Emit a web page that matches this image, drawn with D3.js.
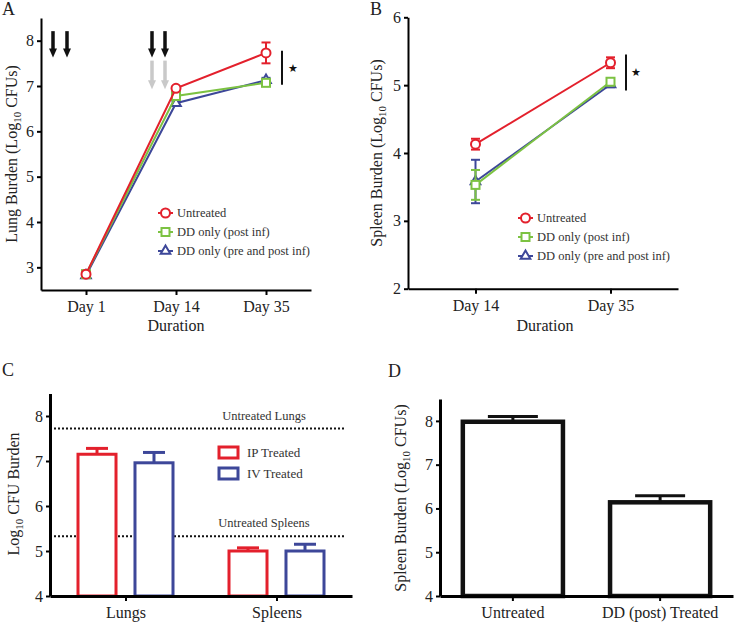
<!DOCTYPE html>
<html>
  <head>
    <title>CFU burden</title>
    <script src="https://d3js.org/d3.v7.min.js"></script>
    <style>
      body { margin: 0; background: white; }
      svg, svg text { font-family: "Liberation Serif", "DejaVu Serif", serif; }
      .axis path, .axis line { stroke: black; }
      .axis text { font-size: 16px; fill: #222; }
    </style>
  </head>
  <body>
    <script>
      // panel A: lung burden over time
      const daysA = ['Day 1', 'Day 14', 'Day 35'];
      const lungUntreated = [2.85, 6.95, 7.73];
      const lungUntreatedErr = [0.03, 0.04, 0.23];
      const lungPost = [2.85, 6.78, 7.07];
      const lungPostErr = [0.03, 0.05, 0.04];
      const lungPrePost = [2.82, 6.62, 7.13];
      const lungPrePostErr = [0.03, 0.04, 0.05];

      // panel B: spleen burden over time
      const daysB = ['Day 14', 'Day 35'];
      const spleenUntreated = [4.13, 5.33];
      const spleenUntreatedErr = [0.08, 0.08];
      const spleenPost = [3.53, 5.05];
      const spleenPostErr = [0.22, 0.04];
      const spleenPrePost = [3.58, 5.01];
      const spleenPrePostErr = [0.32, 0.04];

      const seriesNames = ['Untreated', 'DD only (post inf)', 'DD only (pre and post inf)'];

      // panel C: route of treatment
      const organs = ['Lungs', 'Spleens'];
      const routes = ['IP Treated', 'IV Treated'];
      const ipTreated = [7.15, 5.0];
      const ipTreatedErr = [0.13, 0.07];
      const ivTreated = [6.96, 5.0];
      const ivTreatedErr = [0.23, 0.15];
      const untreatedRef = [7.72, 5.33];
      const untreatedRefLabels = ['Untreated Lungs', 'Untreated Spleens'];

      // panel D
      const groupsD = ['Untreated', 'DD (post) Treated'];
      const spleenD = [7.98, 6.14];
      const spleenDErr = [0.12, 0.15];

      const RED = '#e3202c', GREEN = '#7cc242', BLUE = '#3d4799';
      const FONT = '"Liberation Serif", "DejaVu Serif", serif';

      const svg = d3.select('body').append('svg')
        .attr('width', 740).attr('height', 624)
        .attr('font-family', FONT);

      function txt(x, y, s, size) {
        return svg.append('text').attr('x', x).attr('y', y)
          .attr('font-family', FONT).style('font-size', size + 'px').style('fill', '#222').text(s);
      }

      function yLabel(x, y, pre, post) {
        const t = svg.append('text')
          .attr('transform', `translate(${x},${y}) rotate(-90)`)
          .attr('text-anchor', 'middle').attr('font-family', FONT)
          .style('font-size', '16px').style('fill', '#222');
        t.append('tspan').text(pre + 'Log');
        t.append('tspan').text('10').attr('dy', 4).style('font-size', '11px');
        t.append('tspan').text(post).attr('dy', -4);
      }

      function styleAxis(g, w) {
        g.attr('font-family', FONT);
        g.select('path').attr('stroke-width', w);
        g.selectAll('line').attr('stroke-width', 2);
      }

      function marker(shape, x, y, color) {
        if (shape === 0) {
          svg.append('circle').attr('cx', x).attr('cy', y).attr('r', 4.5)
            .attr('fill', 'white').attr('stroke', color).attr('stroke-width', 2);
        } else if (shape === 1) {
          svg.append('rect').attr('x', x - 4).attr('y', y - 4).attr('width', 8).attr('height', 8)
            .attr('fill', 'white').attr('stroke', color).attr('stroke-width', 2);
        } else {
          svg.append('path').attr('d', d3.symbol(d3.symbolTriangle, 40)())
            .attr('transform', `translate(${x},${y})`)
            .attr('fill', 'white').attr('stroke', color).attr('stroke-width', 2);
        }
      }

      function linePanel(cats, series, x, y, legendX, legendY) {
        const line = d3.line().x((d, i) => x(cats[i])).y(d => y(d));
        // draw blue first, red last
        [2, 1, 0].forEach(k => {
          const s = series[k];
          svg.append('path').datum(s.vals)
            .attr('d', line).attr('fill', 'none')
            .attr('stroke', s.color).attr('stroke-width', 2);
          s.vals.forEach((v, i) => {
            const cx = x(cats[i]);
            const e = s.err[i];
            svg.append('line').attr('x1', cx).attr('x2', cx)
              .attr('y1', y(v - e)).attr('y2', y(v + e))
              .attr('stroke', s.color).attr('stroke-width', 2);
            [v - e, v + e].forEach(w => svg.append('line')
              .attr('x1', cx - 4.5).attr('x2', cx + 4.5)
              .attr('y1', y(w)).attr('y2', y(w))
              .attr('stroke', s.color).attr('stroke-width', 2));
            marker(k, cx, y(v), s.color);
          });
        });
        series.forEach((s, k) => {
          const ly = legendY + k * 19;
          svg.append('line').attr('x1', legendX).attr('x2', legendX + 15)
            .attr('y1', ly).attr('y2', ly)
            .attr('stroke', s.color).attr('stroke-width', 2);
          marker(k, legendX + 7.5, ly, s.color);
          txt(legendX + 19, ly + 4, s.name, 12.5).style('fill', '#333');
        });
      }

      // ---------- A ----------
      const xA = d3.scalePoint().domain(daysA).range([41, 311]).padding(0.5);
      const yA = d3.scaleLinear().domain([2.5, 8.5]).range([290, 18]);
      svg.append('g').attr('class', 'axis').attr('transform', 'translate(0,290)')
        .call(d3.axisBottom(xA).tickSize(5).tickSizeOuter(0).tickPadding(6))
        .call(styleAxis, 2);
      svg.append('g').attr('class', 'axis').attr('transform', 'translate(41,0)')
        .call(d3.axisLeft(yA).tickValues([3, 4, 5, 6, 7, 8]).tickFormat(d3.format('d'))
          .tickSize(4).tickSizeOuter(0).tickPadding(3))
        .call(styleAxis, 2);

      // treatment arrows (black: DD dosing, grey: second regimen)
      const arrowsA = [
        { day: 'Day 1', dx: -33, top: 8.21, bottom: 7.63, color: '#111' },
        { day: 'Day 1', dx: -19, top: 8.21, bottom: 7.63, color: '#111' },
        { day: 'Day 14', dx: -24, top: 8.21, bottom: 7.63, color: '#111' },
        { day: 'Day 14', dx: -11, top: 8.21, bottom: 7.63, color: '#111' },
        { day: 'Day 14', dx: -24, top: 7.56, bottom: 6.93, color: '#c9c9c9' },
        { day: 'Day 14', dx: -11, top: 7.56, bottom: 6.93, color: '#c9c9c9' }
      ];
      arrowsA.forEach(a => {
        const ax = xA(a.day) + a.dx;
        const y0 = yA(a.top), y1 = yA(a.bottom);
        svg.append('line').attr('x1', ax).attr('x2', ax).attr('y1', y0).attr('y2', y1 - 8)
          .attr('stroke', a.color).attr('stroke-width', 3.5);
        svg.append('path')
          .attr('d', `M${ax - 4},${y1 - 9} L${ax + 4},${y1 - 9} L${ax},${y1} Z`)
          .attr('fill', a.color);
      });

      linePanel(daysA, [
        { name: seriesNames[0], vals: lungUntreated, err: lungUntreatedErr, color: RED },
        { name: seriesNames[1], vals: lungPost, err: lungPostErr, color: GREEN },
        { name: seriesNames[2], vals: lungPrePost, err: lungPrePostErr, color: BLUE }
      ], xA, yA, 158, 213);

      // significance
      svg.append('line').attr('x1', 282).attr('x2', 282).attr('y1', yA(7.78)).attr('y2', yA(7.03))
        .attr('stroke', '#111').attr('stroke-width', 2);
      txt(288, yA(7.4) + 4, '★', 11).style('fill', '#111');

      txt(176, 331, 'Duration', 16).attr('text-anchor', 'middle');
      yLabel(17, 154, 'Lung Burden (', ' CFUs)');
      txt(2, 15, 'A', 18);

      // ---------- B ----------
      const xB = d3.scalePoint().domain(daysB).range([408, 678]).padding(0.5);
      const yB = d3.scaleLinear().domain([2, 6]).range([288.7, 17.3]);
      svg.append('g').attr('class', 'axis').attr('transform', 'translate(0,288.7)')
        .call(d3.axisBottom(xB).tickSize(5).tickSizeOuter(0).tickPadding(6))
        .call(styleAxis, 2);
      svg.append('g').attr('class', 'axis').attr('transform', 'translate(408,0)')
        .call(d3.axisLeft(yB).ticks(4).tickFormat(d3.format('d')).tickSize(4).tickSizeOuter(0).tickPadding(3))
        .call(styleAxis, 2);

      linePanel(daysB, [
        { name: seriesNames[0], vals: spleenUntreated, err: spleenUntreatedErr, color: RED },
        { name: seriesNames[1], vals: spleenPost, err: spleenPostErr, color: GREEN },
        { name: seriesNames[2], vals: spleenPrePost, err: spleenPrePostErr, color: BLUE }
      ], xB, yB, 518, 218);

      svg.append('line').attr('x1', 626).attr('x2', 626).attr('y1', yB(5.45)).attr('y2', yB(4.92))
        .attr('stroke', '#111').attr('stroke-width', 2);
      txt(631, yB(5.19) + 4, '★', 11).style('fill', '#111');

      txt(545, 331, 'Duration', 16).attr('text-anchor', 'middle');
      yLabel(382, 153, 'Spleen Burden (', ' CFUs)');
      txt(370, 15, 'B', 18);

      // ---------- C ----------
      const xC = d3.scalePoint().domain(organs).range([50, 352]).padding(0.5);
      const subC = d3.scaleBand().domain(routes).range([-47.5, 47.5]).paddingInner(0.333);
      const yC = d3.scaleLinear().domain([4, 8.5]).range([596, 393.5]);
      const colorC = d3.scaleOrdinal().domain(routes).range([RED, BLUE]);
      const barsC = [];
      organs.forEach((o, i) => {
        barsC.push({ organ: o, route: routes[0], v: ipTreated[i], e: ipTreatedErr[i] });
        barsC.push({ organ: o, route: routes[1], v: ivTreated[i], e: ivTreatedErr[i] });
      });

      // untreated reference lines
      untreatedRef.forEach((v, i) => {
        svg.append('line').attr('x1', 50).attr('x2', 344).attr('y1', yC(v)).attr('y2', yC(v))
          .attr('stroke', '#111').attr('stroke-width', 2).attr('stroke-dasharray', '2,2');
        txt(264, yC(v) - 9, untreatedRefLabels[i], 12.5).attr('text-anchor', 'middle').style('fill', '#333');
      });

      barsC.forEach(b => {
        const bx = xC(b.organ) + subC(b.route);
        const w = subC.bandwidth();
        const c = colorC(b.route);
        svg.append('rect').attr('x', bx).attr('y', yC(b.v)).attr('width', w).attr('height', yC(4) - yC(b.v))
          .attr('fill', 'white').attr('stroke', c).attr('stroke-width', 3);
        svg.append('line').attr('x1', bx + w / 2).attr('x2', bx + w / 2)
          .attr('y1', yC(b.v)).attr('y2', yC(b.v + b.e)).attr('stroke', c).attr('stroke-width', 3);
        svg.append('line').attr('x1', bx + w / 2 - 11).attr('x2', bx + w / 2 + 11)
          .attr('y1', yC(b.v + b.e)).attr('y2', yC(b.v + b.e)).attr('stroke', c).attr('stroke-width', 3);
      });

      svg.append('g').attr('class', 'axis').attr('transform', 'translate(0,596)')
        .call(d3.axisBottom(xC).tickSize(5).tickSizeOuter(0).tickPadding(6))
        .call(styleAxis, 3);
      svg.append('g').attr('class', 'axis').attr('transform', 'translate(50,0)')
        .call(d3.axisLeft(yC).ticks(4).tickFormat(d3.format('d')).tickSize(4).tickSizeOuter(0).tickPadding(3))
        .call(styleAxis, 3);

      routes.forEach((r, i) => {
        svg.append('rect').attr('x', 219).attr('y', 447 + i * 21).attr('width', 19).attr('height', 11)
          .attr('fill', 'white').attr('stroke', colorC(r)).attr('stroke-width', 3);
        txt(247, 457 + i * 21, r, 13).style('fill', '#333');
      });

      yLabel(19, 494, '', ' CFU Burden');
      txt(2, 376, 'C', 18);

      // ---------- D ----------
      const xD = d3.scaleBand().domain(groupsD).range([440, 733]).paddingInner(0.32).paddingOuter(0.155);
      const yD = d3.scaleLinear().domain([4, 8.5]).range([596, 399]);
      groupsD.forEach((g, i) => {
        const bx = xD(g), w = xD.bandwidth();
        svg.append('rect').attr('x', bx).attr('y', yD(spleenD[i])).attr('width', w)
          .attr('height', yD(4) - yD(spleenD[i]))
          .attr('fill', 'white').attr('stroke', '#111').attr('stroke-width', 4.5);
        svg.append('line').attr('x1', bx + w / 2).attr('x2', bx + w / 2)
          .attr('y1', yD(spleenD[i])).attr('y2', yD(spleenD[i] + spleenDErr[i]))
          .attr('stroke', '#111').attr('stroke-width', 3);
        svg.append('line').attr('x1', bx + w / 2 - 25).attr('x2', bx + w / 2 + 25)
          .attr('y1', yD(spleenD[i] + spleenDErr[i])).attr('y2', yD(spleenD[i] + spleenDErr[i]))
          .attr('stroke', '#111').attr('stroke-width', 3);
      });
      svg.append('g').attr('class', 'axis').attr('transform', 'translate(0,596)')
        .call(d3.axisBottom(xD).tickSize(5).tickSizeOuter(0).tickPadding(6))
        .call(styleAxis, 3);
      svg.append('g').attr('class', 'axis').attr('transform', 'translate(440,0)')
        .call(d3.axisLeft(yD).ticks(4).tickFormat(d3.format('d')).tickSize(4).tickSizeOuter(0).tickPadding(3))
        .call(styleAxis, 3);

      yLabel(406, 498, 'Spleen Burden (', ' CFUs)');
      txt(388, 377, 'D', 18);
    </script>
  </body>
</html>
